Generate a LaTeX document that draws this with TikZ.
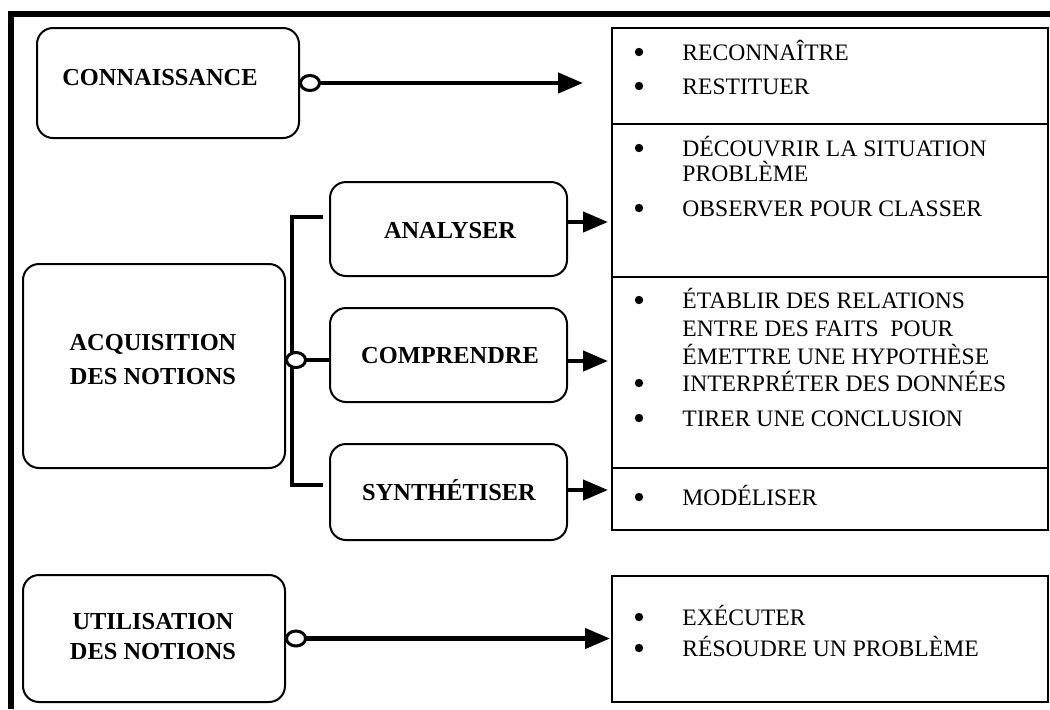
\documentclass[tikz,border=0pt]{standalone}
\usepackage{fontspec}
\setmainfont{Liberation Serif}
\usetikzlibrary{arrows.meta}
\tikzset{
  lbox/.style={draw, rounded corners=8pt, line width=1pt, inner sep=0pt, outer sep=0pt},
  rbox/.style={draw, line width=.9pt, inner sep=0pt, outer sep=0pt, minimum width=218pt},
  ltext/.style={font=\fontsize{12.2}{17}\selectfont\bfseries, align=center, inner sep=0pt},
  itemtext/.style={font=\fontsize{11.8}{14}\selectfont, anchor=base west, inner sep=0pt},
  link/.style={line width=2.2pt, -{Triangle[length=12.5pt,width=10pt]}},
  ringlink/.style={line width=2.2pt, {Circle[length=11pt,width=9pt,line width=1.5pt,fill=white]}-{Triangle[length=12.5pt,width=10pt]}},
  ringline/.style={line width=2.2pt, {Circle[length=11pt,width=9pt,line width=1.5pt,fill=white]}-},
  bracket/.style={line width=2.2pt}
}
\begin{document}
\begin{tikzpicture}[x=.5pt,y=-.5pt]
    \useasboundingbox (0,0) rectangle (1050,709);
    % frame
    \draw[line width=3.2pt] (1050,14.2) -| (10.7,709);
    % left boxes
    \node[lbox, minimum width=131pt, minimum height=55pt] (conn) at (168,83) {};
    \node[lbox, minimum width=131pt, minimum height=102pt] (acq) at (154,366) {};
    \node[lbox, minimum width=131pt, minimum height=63.5pt] (util) at (154,638.5) {};
    \node[lbox, minimum width=118.5pt, minimum height=47pt] (anal) at (448.5,229) {};
    \node[lbox, minimum width=118.5pt, minimum height=47pt] (comp) at (448.5,355) {};
    \node[lbox, minimum width=118.5pt, minimum height=48pt] (synt) at (448.5,492) {};
    \node[ltext, anchor=base] (connT) at (160,85) {CONNAISSANCE};
    \node[ltext] (acqT) at (153,360) {ACQUISITION\\DES NOTIONS};
    \node[ltext, font=\fontsize{12.2}{15}\selectfont\bfseries] (utilT) at (153,637) {UTILISATION\\DES NOTIONS};
    \node[ltext, anchor=base] (analT) at (450,238) {ANALYSER};
    \node[ltext, anchor=base] (compT) at (450,363) {COMPRENDRE};
    \node[ltext, anchor=base] (syntT) at (449,500) {SYNTHÉTISER};
    % right boxes
    \node[rbox, minimum height=48pt] (r1) at (830,76) {};
    \node[rbox, minimum height=76.5pt] (r2) at (830,200.5) {};
    \node[rbox, minimum height=95.5pt] (r3) at (830,372.5) {};
    \node[rbox, minimum height=31pt] (r4) at (830,499) {};
    \node[rbox, minimum height=63pt] (r5) at (830,639) {};
    \foreach \y/\t [count=\i] in {52/RECONNAÎTRE, 86/RESTITUER, 148/DÉCOUVRIR LA SITUATION, 173/PROBLÈME,
        208/OBSERVER POUR CLASSER, 300/ÉTABLIR DES RELATIONS, 328/ENTRE DES FAITS\ \ POUR,
        356/ÉMETTRE UNE HYPOTHÈSE, 383/INTERPRÉTER DES DONNÉES, 418/TIRER UNE CONCLUSION,
        497/MODÉLISER, 617/EXÉCUTER, 648/RÉSOUDRE UN PROBLÈME}
        \node[itemtext] (item\i) at (682,\y+8) {\t};
    \foreach \y in {52,86,148,208,300,383,418,497,617,648}
        \fill (639,\y) circle (2.1pt);
    % connectors
    \draw[bracket] ([shift={(-3.5pt,6pt)}]anal.west) -| ([xshift=3.5pt]acq.east) |- ([shift={(-3.5pt,3.5pt)}]synt.west);
    \draw[ringline] ([yshift=3pt]acq.east) -- ([yshift=3pt]acq.east -| comp.west);
    \draw[ringlink, shorten >=14.5pt] (conn.east) -- (conn.east -| r1.west);
    \draw[link, shorten >=2pt] ([yshift=3.5pt]anal.east) -- ([yshift=3.5pt]anal.east -| r2.west);
    \draw[link, shorten >=2pt] ([yshift=-3pt]comp.east) -- ([yshift=-3pt]comp.east -| r3.west);
    \draw[link, shorten >=2pt] ([yshift=1pt]synt.east) -- ([yshift=1pt]synt.east -| r4.west);
    \draw[ringlink, shorten >=1pt] (util.east) -- (util.east -| r5.west);
\end{tikzpicture}
\end{document}
